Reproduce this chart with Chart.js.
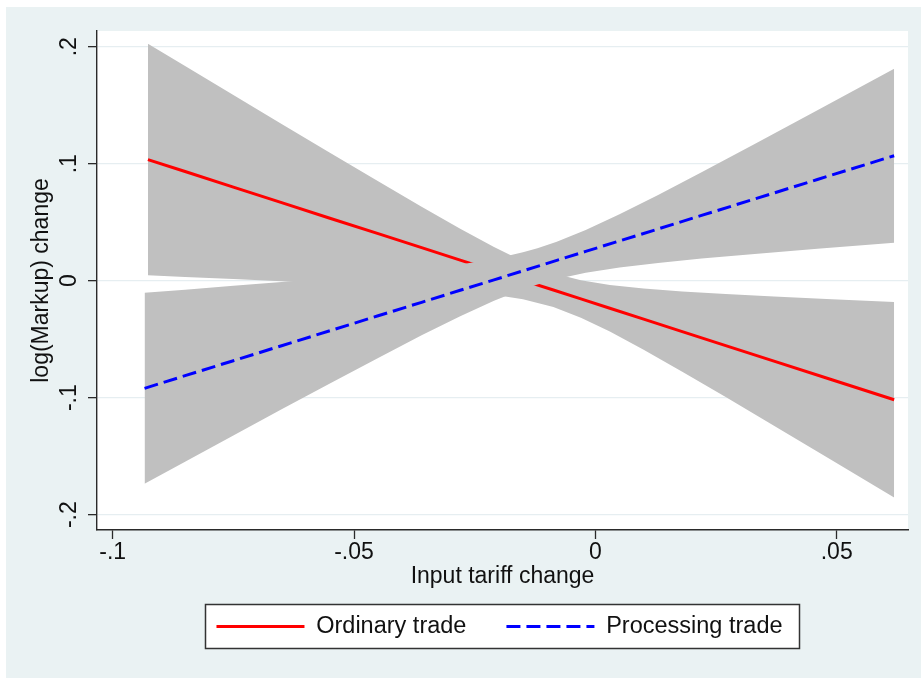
<!DOCTYPE html>
<html>
<head>
<meta charset="utf-8">
<script src="https://cdn.jsdelivr.net/npm/chart.js@4.4.1/dist/chart.umd.min.js"></script>
<style>
  html, body { margin: 0; padding: 0; background: #ffffff; }
  canvas { display: block; }
</style>
</head>
<body>
<canvas id="chart" width="921" height="678"></canvas>
<script>
// Ordinary trade: linear fit of log markup change on input tariff change, with 95% band
const tariffOrdinary = [-0.0927, -0.085, -0.075, -0.065, -0.055, -0.045, -0.036, -0.028, -0.021, -0.015,
                        -0.0087, -0.003, 0.003, 0.010, 0.018, 0.027, 0.037, 0.049, 0.0619];
const ordinaryFit = [0.1035, 0.0933, 0.0800, 0.0667, 0.0534, 0.0402, 0.0282, 0.0176, 0.0083, 0.0003,
                     -0.0080, -0.0156, -0.0236, -0.0329, -0.0435, -0.0555, -0.0687, -0.0847, -0.1018];
const ordinaryHi = [0.2025, 0.1834, 0.1586, 0.1339, 0.1093, 0.0849, 0.0632, 0.0443, 0.0287, 0.0166,
                    0.0064, 0.0003, -0.0037, -0.0067, -0.0092, -0.0114, -0.0135, -0.0159, -0.0183];
const ordinaryLo = [0.0046, 0.0032, 0.0014, -0.0005, -0.0024, -0.0046, -0.0068, -0.0092, -0.0121, -0.0159,
                    -0.0225, -0.0316, -0.0435, -0.0591, -0.0778, -0.0995, -0.1239, -0.1535, -0.1853];

// Processing trade: same fit and band
const tariffProcessing = [-0.0934, -0.085, -0.075, -0.065, -0.055, -0.045, -0.036, -0.028, -0.021, -0.015,
                          -0.012, -0.008, -0.002, 0.005, 0.013, 0.022, 0.033, 0.046, 0.0619];
const processingFit = [-0.0920, -0.0812, -0.0684, -0.0556, -0.0428, -0.0300, -0.0185, -0.0082, 0.0007, 0.0084,
                       0.0122, 0.0174, 0.0250, 0.0340, 0.0442, 0.0558, 0.0698, 0.0865, 0.1068];
const processingHi = [-0.0103, -0.0077, -0.0044, -0.0012, 0.0023, 0.0060, 0.0098, 0.0139, 0.0186, 0.0242,
                      0.0277, 0.0333, 0.0434, 0.0568, 0.0733, 0.0927, 0.1168, 0.1457, 0.1812];
const processingLo = [-0.1736, -0.1547, -0.1324, -0.1100, -0.0879, -0.0660, -0.0467, -0.0303, -0.0171, -0.0074,
                      -0.0033, 0.0014, 0.0067, 0.0112, 0.0152, 0.0189, 0.0229, 0.0273, 0.0324];

const seriesNames = ['Ordinary trade', 'Processing trade'];
const xTickValues = [-0.1, -0.05, 0, 0.05];
const xTickLabels = ['-.1', '-.05', '0', '.05'];
const yTickValues = [-0.2, -0.1, 0, 0.1, 0.2];
const yTickLabels = ['-.2', '-.1', '0', '.1', '.2'];
const xTitle = 'Input tariff change';
const yTitle = 'log(Markup) change';

const pts = (xs, ys) => xs.map((x, i) => ({ x: x, y: ys[i] }));

const FONT_SIZE = 23;
const LEGEND_FONT = 23.5;
const BAND = 'rgb(192,192,192)';
const AXIS = '#2a2a2a';
const GRID = '#e6eef1';
const PAGE = '#eaf2f3';

Chart.defaults.font.family = '"Liberation Sans", Arial, Helvetica, sans-serif';
Chart.defaults.font.size = FONT_SIZE;
Chart.defaults.color = '#111111';

// Page background, white plot region and the legend frame; legend placed under the plot
const backdrop = {
  id: 'backdrop',
  afterLayout(chart) {
    const lg = chart.legend;
    if (!lg) return;
    const a = chart.chartArea;
    const dx = (a.left + a.right) / 2 - 3 - (lg.left + lg.right) / 2;
    const pad = lg.options.labels.padding;
    const dy = 626.5 - (lg.top + pad + LEGEND_FONT / 2);
    lg.left += dx; lg.right += dx;
    lg.top += dy; lg.bottom += dy;
  },
  beforeDraw(chart) {
    const { ctx, chartArea: a, width, height } = chart;
    ctx.save();
    ctx.fillStyle = '#ffffff';
    ctx.fillRect(0, 0, width, height);
    ctx.fillStyle = PAGE;
    ctx.fillRect(6, 7, width - 6, height - 7);
    ctx.fillStyle = '#ffffff';
    ctx.fillRect(a.left, a.top, a.right - a.left, a.bottom - a.top);
    const cx = (a.left + a.right) / 2;
    ctx.fillRect(cx - 297, 604.5, 594, 44);
    ctx.strokeStyle = '#333333';
    ctx.lineWidth = 1.5;
    ctx.strokeRect(cx - 297, 604.5, 594, 44);
    ctx.restore();
  }
};

// Legend keys take the stroke of their line dataset (colour, width, dash)
function lineLegendItems(chart) {
  const base = Chart.defaults.plugins.legend.labels.generateLabels(chart);
  return base
    .filter(item => !!item.text)
    .sort((a, b) => a.datasetIndex - b.datasetIndex)
    .map(item => {
      const ds = chart.data.datasets[item.datasetIndex];
      item.strokeStyle = ds.borderColor;
      item.fillStyle = ds.borderColor;
      item.lineWidth = ds.borderWidth;
      item.lineDash = ds.borderDash || [];
      item.lineCap = 'butt';
      item.pointStyle = 'line';
      return item;
    });
}

new Chart(document.getElementById('chart'), {
  type: 'line',
  data: {
    datasets: [
      { data: pts(tariffOrdinary, ordinaryHi), fill: { target: 1 }, backgroundColor: BAND,
        borderWidth: 0, pointRadius: 0, order: 5 },
      { data: pts(tariffOrdinary, ordinaryLo), fill: false, borderWidth: 0, pointRadius: 0, order: 6 },
      { label: seriesNames[0], data: pts(tariffOrdinary, ordinaryFit), fill: false,
        borderColor: '#ff0000', backgroundColor: '#ff0000', borderWidth: 3, pointRadius: 0, order: 4 },
      { data: pts(tariffProcessing, processingHi), fill: { target: 4 }, backgroundColor: BAND,
        borderWidth: 0, pointRadius: 0, order: 2 },
      { data: pts(tariffProcessing, processingLo), fill: false, borderWidth: 0, pointRadius: 0, order: 3 },
      { label: seriesNames[1], data: pts(tariffProcessing, processingFit), fill: false,
        borderColor: '#0000ff', backgroundColor: '#0000ff', borderWidth: 3, borderDash: [14, 6],
        pointRadius: 0, order: 1 }
    ]
  },
  options: {
    responsive: false,
    animation: false,
    events: [],
    layout: { padding: { left: 6, right: 13, top: 31, bottom: 0 } },
    elements: { line: { tension: 0, borderCapStyle: 'butt' } },
    plugins: {
      tooltip: { enabled: false },
      legend: {
        position: 'bottom',
        labels: {
          generateLabels: lineLegendItems,
          usePointStyle: true,
          pointStyle: 'line',
          pointStyleWidth: 88,
          padding: 40,
          color: '#111111',
          font: { size: LEGEND_FONT }
        }
      }
    },
    scales: {
      x: {
        type: 'linear',
        min: -0.10325,
        max: 0.06477,
        afterBuildTicks: (s) => { s.ticks = xTickValues.map(v => ({ value: v })); },
        afterFit: (s) => {
          const lh = s.chart.legend ? s.chart.legend.height : 73.5;
          s.height = s.chart.height - 530 - lh;
        },
        ticks: {
          autoSkip: false, maxRotation: 0, minRotation: 0, padding: 0,
          callback: (v, i) => xTickLabels[i]
        },
        grid: { display: true, drawOnChartArea: false, tickLength: 9, tickColor: AXIS, tickWidth: 1.3 },
        border: { display: true, color: AXIS, width: 1.4 },
        title: { display: true, text: xTitle, padding: { top: 0, bottom: 14.5 }, font: { size: FONT_SIZE } }
      },
      y: {
        type: 'linear',
        min: -0.2131,
        max: 0.2134,
        afterBuildTicks: (s) => { s.ticks = yTickValues.map(v => ({ value: v })); },
        afterFit: (s) => { s.width = 91; },
        ticks: {
          autoSkip: false, minRotation: 90, maxRotation: 90, crossAlign: 'center', padding: 5,
          callback: (v, i) => yTickLabels[i]
        },
        grid: { display: true, color: GRID, lineWidth: 1.3, tickLength: 9, tickColor: AXIS, tickWidth: 1.3 },
        border: { display: true, color: AXIS, width: 1.4 },
        title: { display: true, text: yTitle, padding: { top: 22, bottom: 0 }, font: { size: FONT_SIZE } }
      }
    }
  },
  plugins: [backdrop]
});
</script>
</body>
</html>
